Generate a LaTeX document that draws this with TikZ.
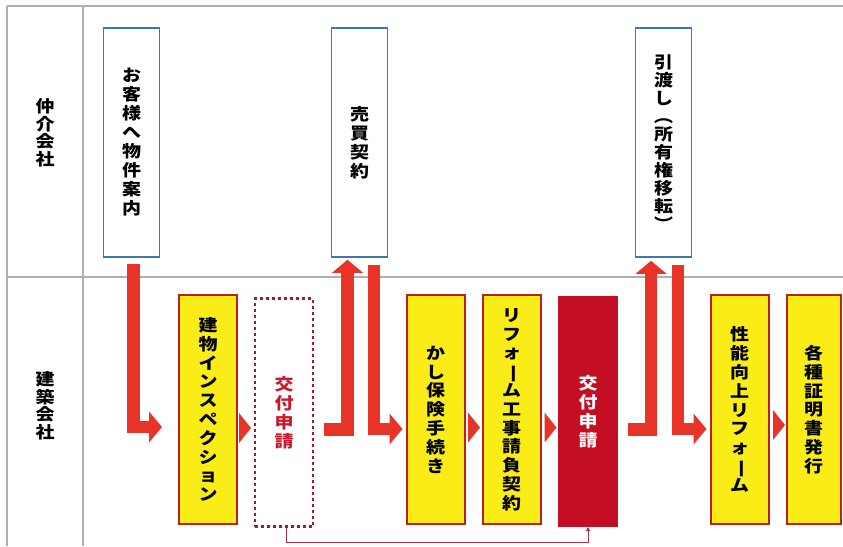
\documentclass[tikz,border=0pt]{standalone}
\usepackage{fontspec}
\usepackage{graphicx}
\newfontfamily\jp{Noto Sans CJK JP}[FakeStretch=1.15]
\usetikzlibrary{arrows.meta,calc}
\definecolor{arrowred}{RGB}{232,52,40}
\definecolor{boxred}{RGB}{190,30,35}
\definecolor{boxyellow}{RGB}{250,236,22}
\definecolor{darkred}{RGB}{196,14,36}
\definecolor{dashred}{RGB}{155,28,58}
\definecolor{textred}{RGB}{200,25,45}
\definecolor{boxblue}{RGB}{60,120,180}
\definecolor{framegray}{RGB}{175,175,175}
\definecolor{connred}{RGB}{170,50,70}
\newcommand{\vbar}{\rotatebox[origin=c]{-90}{ー}}
\tikzset{
  frame/.style={draw=framegray, line width=1.2pt},
  vtext/.style={align=center, inner sep=0pt, font=\jp\bfseries\fontsize{16.5}{18.8}\selectfont},
  side/.style={vtext, font=\jp\bfseries\fontsize{16.5}{17.5}\selectfont},
  topbox/.style={vtext, draw=boxblue, line width=1.6pt, fill=white, minimum width=56pt, minimum height=229pt, font=\jp\bfseries\fontsize{16.5}{19}\selectfont},
  ybox/.style={vtext, draw=boxred, line width=2pt, fill=boxyellow, minimum width=58pt, minimum height=229pt},
  dbox/.style={vtext, draw=dashred, line width=2.2pt, dash pattern=on 3pt off 3pt, minimum width=58pt, minimum height=228pt, text=textred},
  rbox/.style={vtext, draw=darkred, line width=1pt, fill=darkred, minimum width=59pt, minimum height=230pt, text=white},
  big/.style={draw=arrowred, line width=12.5pt, line join=miter, -{Triangle[length=13pt 0 0,width=31pt 0 0,line width=0pt 0 0]}},
  chev/.style={draw=arrowred, line width=0.3pt, -{Triangle[length=12pt 0 0,width=30pt 0 0,line width=0pt 0 0]}},
  conn/.style={draw=connred, line width=1pt, -{Triangle[length=4pt 0 0,width=4pt 0 0]}}
}
\begin{document}
\begin{tikzpicture}[x=1pt,y=-1pt]
\useasboundingbox (0,0) rectangle (843,546);
% frame
\draw[frame] (7,6) -- (843,6);
\draw[frame] (7,6) -- (7,546);
\draw[frame] (83,6) -- (83,546);
\draw[frame] (7,277) -- (843,277);
% lane labels
\node[side] (l1) at (45,133) {仲\\介\\会\\社};
\node[side] (l2) at (45,406) {建\\築\\会\\社};
% top boxes
\node[topbox] (t1) at (131.5,142.5) {お\\客\\様\\へ\\物\\件\\案\\内};
\node[topbox] (t2) at (359.5,142.5) {売\\買\\契\\約};
\node[topbox, font=\jp\bfseries\fontsize{16.5}{18}\selectfont] (t3) at (663.5,142.5) {引\\渡\\し\\︵\\所\\有\\権\\移\\転\\︶};
% bottom boxes
\node[ybox] (b1) at (208,409.5) {建\\物\\イ\\ン\\ス\\ペ\\ク\\シ\\ョ\\ン};
\node[dbox] (b2) at (284,412.5) {交\\付\\申\\請};
\node[ybox] (b3) at (435.5,409.5) {か\\し\\保\\険\\手\\続\\き};
\node[ybox] (b4) at (511.5,409.5) {リ\\フ\\ォ\\\vbar\\ム\\工\\事\\請\\負\\契\\約};
\node[rbox] (b5) at (588,411.5) {交\\付\\申\\請};
\node[ybox] (b6) at (739.5,409.5) {性\\能\\向\\上\\リ\\フ\\ォ\\\vbar\\ム};
\node[ybox, minimum width=54pt] (b7) at (813.5,409.5) {各\\種\\証\\明\\書\\発\\行};
% big arrows
\draw[big] ([xshift=2pt,yshift=-6pt]t1.south) |- ([xshift=-16pt,yshift=-17.5pt]b1.west);
\draw[big] ([xshift=10pt,yshift=-17pt]b2.east) -| ([xshift=-12pt,yshift=-2pt]t2.south);
\draw[big] ([xshift=14.5pt,yshift=-7pt]t2.south) |- ([xshift=-3pt,yshift=-19.5pt]b3.west);
\draw[big] ([xshift=10pt,yshift=-18pt]b5.east) -| ([xshift=-12.5pt,yshift=-3pt]t3.south);
\draw[big] ([xshift=14.5pt,yshift=-7pt]t3.south) |- ([xshift=-3pt,yshift=-19.5pt]b6.west);
% chevrons
\draw[chev] ([xshift=1pt,yshift=-18.5pt]b1.east) -- ++(12,0);
\draw[chev] ([xshift=2.5pt,yshift=-18pt]b3.east) -- ++(12,0);
\draw[chev] ([xshift=3pt,yshift=-18pt]b4.east) -- ++(12,0);
\draw[chev] ([xshift=3.5pt,yshift=-15.5pt]b6.east) -- ++(12,0);
% bottom connector
\draw[conn] ([xshift=2pt]b2.south) -- ++(0,15) -| (b5.south);
\end{tikzpicture}
\end{document}
